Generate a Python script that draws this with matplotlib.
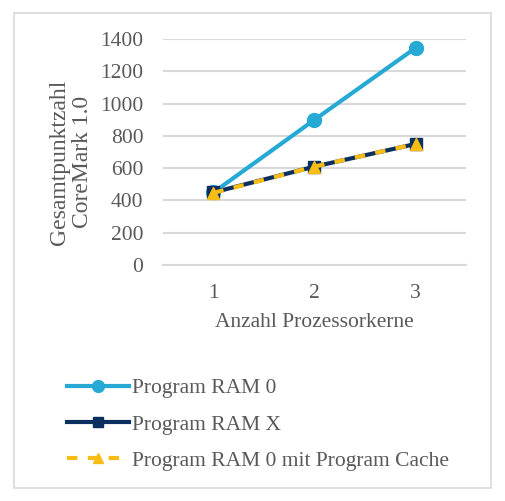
import matplotlib.pyplot as plt
from matplotlib.patches import Rectangle

plt.rcParams['font.family'] = ['Liberation Serif', 'DejaVu Serif']

# data
cores = [1, 2, 3]
ram0 = [450, 900, 1345]
ramx = [450, 610, 750]
ram0_cache = [447, 610, 750]
series_names = ['Program RAM 0', 'Program RAM X', 'Program RAM 0 mit Program Cache']
yticks = [0, 200, 400, 600, 800, 1000, 1200, 1400]

text_col = '#595959'
grid_col = '#d9d9d9'
fs = 15.5

fig = plt.figure(figsize=(5.06, 5.01), dpi=100)
ax = fig.add_axes([0.322, 0.471, 0.599, 0.451])

ax.plot(cores, ram0, color='#27a9d6', lw=3, marker='o', ms=10, label=series_names[0], zorder=3)
ax.plot(cores, ramx, color='#0b2f5e', lw=3, marker='s', ms=9, label=series_names[1], zorder=4)
ax.plot(cores, ram0_cache, color='#f8bd14', lw=3, ls=(0, (2.5, 2.5)), marker='^', ms=8,
        label=series_names[2], zorder=5)

ax.set_xlim(0.5, 3.5)
ax.set_ylim(0, 1400)
ax.set_xticks(cores)
ax.set_yticks(yticks)
ax.yaxis.grid(True, color=grid_col, lw=1.5)
ax.set_axisbelow(True)
for s in ['top', 'right', 'left']:
    ax.spines[s].set_visible(False)
ax.spines['bottom'].set_color(grid_col)
ax.spines['bottom'].set_linewidth(1.5)
ax.tick_params(length=0, labelsize=fs, labelcolor=text_col)
ax.tick_params(axis='y', pad=14)
ax.tick_params(axis='x', pad=14)

ax.set_xlabel('Anzahl Prozessorkerne', fontsize=fs, color=text_col, labelpad=7)
# y label sits a bit below the axis centre, as in the original
fig.text(71 / 506, 1 - 162 / 501, 'Gesamtpunktzahl\nCoreMark 1.0', rotation=90,
         ha='center', va='center', fontsize=17, color=text_col, linespacing=1.12)

leg = fig.legend(loc='upper left', bbox_to_anchor=(0.115, 0.262), frameon=False,
                 fontsize=fs, labelcolor=text_col, handlelength=2.9, handletextpad=0.15,
                 labelspacing=0.75, borderaxespad=0, markerscale=0.85)

# light frame around the whole chart
fig.patches.append(Rectangle((14 / 506, 13 / 501), 477 / 506, 475 / 501,
                             transform=fig.transFigure, fill=False,
                             edgecolor=grid_col, lw=1.2))

fig.savefig('out.png', dpi=100)
